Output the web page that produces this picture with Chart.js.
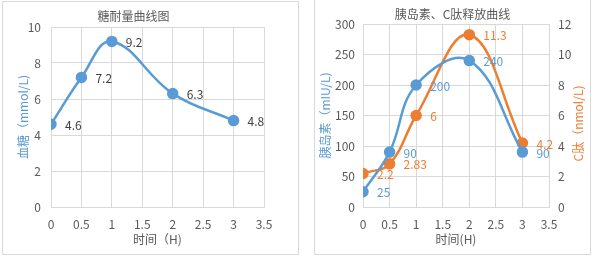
<!DOCTYPE html>
<html>
<head>
<meta charset="utf-8">
<script src="https://cdn.jsdelivr.net/npm/chart.js@4"></script>
<style>
  body { margin: 0; width: 598px; height: 261px; background: #fff; overflow: hidden; position: relative; }
  .box { position: absolute; border: 1px solid #d9d9d9; background: #fff; }
  #box1 { left: 2px; top: 1px; width: 295px; height: 252px; }
  #box2 { left: 314px; top: -2px; width: 275px; height: 255px; }
  canvas { display: block; }
</style>
</head>
<body>
<div class="box" id="box1"><canvas id="sugarChart" width="295" height="252"></canvas></div>
<div class="box" id="box2"><canvas id="insulinChart" width="275" height="255"></canvas></div>
<script>
// data
const hours = [0, 0.5, 1, 2, 3];
const glucose = [4.6, 7.2, 9.2, 6.3, 4.8];
const insulin = [25, 90, 200, 240, 90];
const cPeptide = [2.2, 2.83, 6, 11.3, 4.2];

const blue = '#5B9BD5';
const orange = '#ED7D31';
const grey = '#595959';
const gridColor = '#d9d9d9';

Chart.defaults.font.family = '"Noto Sans CJK SC", "Noto Sans", sans-serif';
Chart.defaults.font.size = 12;
Chart.defaults.color = grey;

function points(values) {
    return hours.map((h, i) => ({x: h, y: values[i]}));
}

// value labels to the right of each point
const valueLabels = {
    id: 'valueLabels',
    afterDatasetsDraw(chart) {
        const ctx = chart.ctx;
        ctx.save();
        ctx.font = '12px "Noto Sans CJK SC", "Noto Sans", sans-serif';
        ctx.textAlign = 'left';
        ctx.textBaseline = 'middle';
        chart.data.datasets.forEach((ds, i) => {
            const meta = chart.getDatasetMeta(i);
            ctx.fillStyle = ds.labelColor;
            meta.data.forEach((pt, j) => {
                ctx.fillText(String(ds.data[j].y), pt.x + 14, pt.y + 1);
            });
        });
        ctx.restore();
    }
};

// right axis title reads bottom-to-top like the left one
const rightTitle = {
    id: 'rightTitle',
    afterDraw(chart) {
        const ctx = chart.ctx;
        const area = chart.chartArea;
        ctx.save();
        ctx.translate(263, (area.top + area.bottom) / 2 + 8);
        ctx.rotate(-Math.PI / 2);
        ctx.font = '12px "Noto Sans CJK SC", "Noto Sans", sans-serif';
        ctx.fillStyle = orange;
        ctx.textAlign = 'center';
        ctx.textBaseline = 'middle';
        ctx.fillText('C肽（nmol/L)', 0, 0);
        ctx.restore();
    }
};

function xAxis(title) {
    return {
        type: 'linear', min: 0, max: 3.5,
        ticks: {stepSize: 0.5, padding: 10, color: grey, callback: v => String(v)},
        grid: {color: gridColor, drawTicks: false},
        border: {color: gridColor},
        title: {display: true, text: title, color: grey, padding: {top: 2, bottom: 7}},
        afterFit(s) { s.height = 47; }
    };
}

new Chart(document.getElementById('sugarChart'), {
    type: 'line',
    data: {
        datasets: [{
            data: points(glucose),
            borderColor: blue, backgroundColor: blue,
            borderWidth: 2.5, pointRadius: 4.5, pointHoverRadius: 4.5,
            tension: 0.4, labelColor: '#404040'
        }]
    },
    options: {
        responsive: false, animation: false,
        layout: {padding: {left: 0, right: 34, top: 0, bottom: 0}},
        plugins: {
            legend: {display: false}, tooltip: {enabled: false},
            title: {display: true, text: '糖耐量曲线图', color: grey, font: {size: 12, weight: 'normal'}, padding: {top: 7, bottom: 3.6}}
        },
        scales: {
            x: xAxis('时间（H)'),
            y: {
                min: 0, max: 10,
                ticks: {stepSize: 2, padding: 10, color: grey},
                grid: {color: gridColor, drawTicks: false},
                border: {color: gridColor},
                title: {display: true, text: '血糖（mmol/L)', color: blue, padding: {top: 13, bottom: 0}},
                afterFit(s) { s.width = 48; }
            }
        }
    },
    plugins: [valueLabels]
});

new Chart(document.getElementById('insulinChart'), {
    type: 'line',
    data: {
        datasets: [{
            data: points(insulin), yAxisID: 'y',
            borderColor: blue, backgroundColor: blue,
            borderWidth: 2.5, pointRadius: 4.5, pointHoverRadius: 4.5,
            tension: 0.4, labelColor: blue
        }, {
            data: points(cPeptide), yAxisID: 'y1',
            borderColor: orange, backgroundColor: orange,
            borderWidth: 2.5, pointRadius: 4.5, pointHoverRadius: 4.5,
            tension: 0.4, labelColor: orange
        }]
    },
    options: {
        responsive: false, animation: false,
        layout: {padding: 0},
        plugins: {
            legend: {display: false}, tooltip: {enabled: false},
            title: {display: true, text: '胰岛素、C肽释放曲线', color: grey, font: {size: 12, weight: 'normal'}, padding: {top: 7.8, bottom: 2.8}}
        },
        scales: {
            x: xAxis('时间(H)'),
            y: {
                position: 'left', min: 0, max: 300,
                ticks: {stepSize: 50, padding: 8, color: grey},
                grid: {color: gridColor, drawTicks: false},
                border: {color: gridColor},
                title: {display: true, text: '胰岛素（mIU/L)', color: blue, padding: {top: 3, bottom: 0}},
                afterFit(s) { s.width = 48; }
            },
            y1: {
                position: 'right', min: 0, max: 12,
                ticks: {stepSize: 2, padding: 9, color: grey},
                grid: {display: false, drawTicks: false},
                border: {display: false},
                afterFit(s) { s.width = 41; }
            }
        }
    },
    plugins: [valueLabels, rightTitle]
});
</script>
</body>
</html>
